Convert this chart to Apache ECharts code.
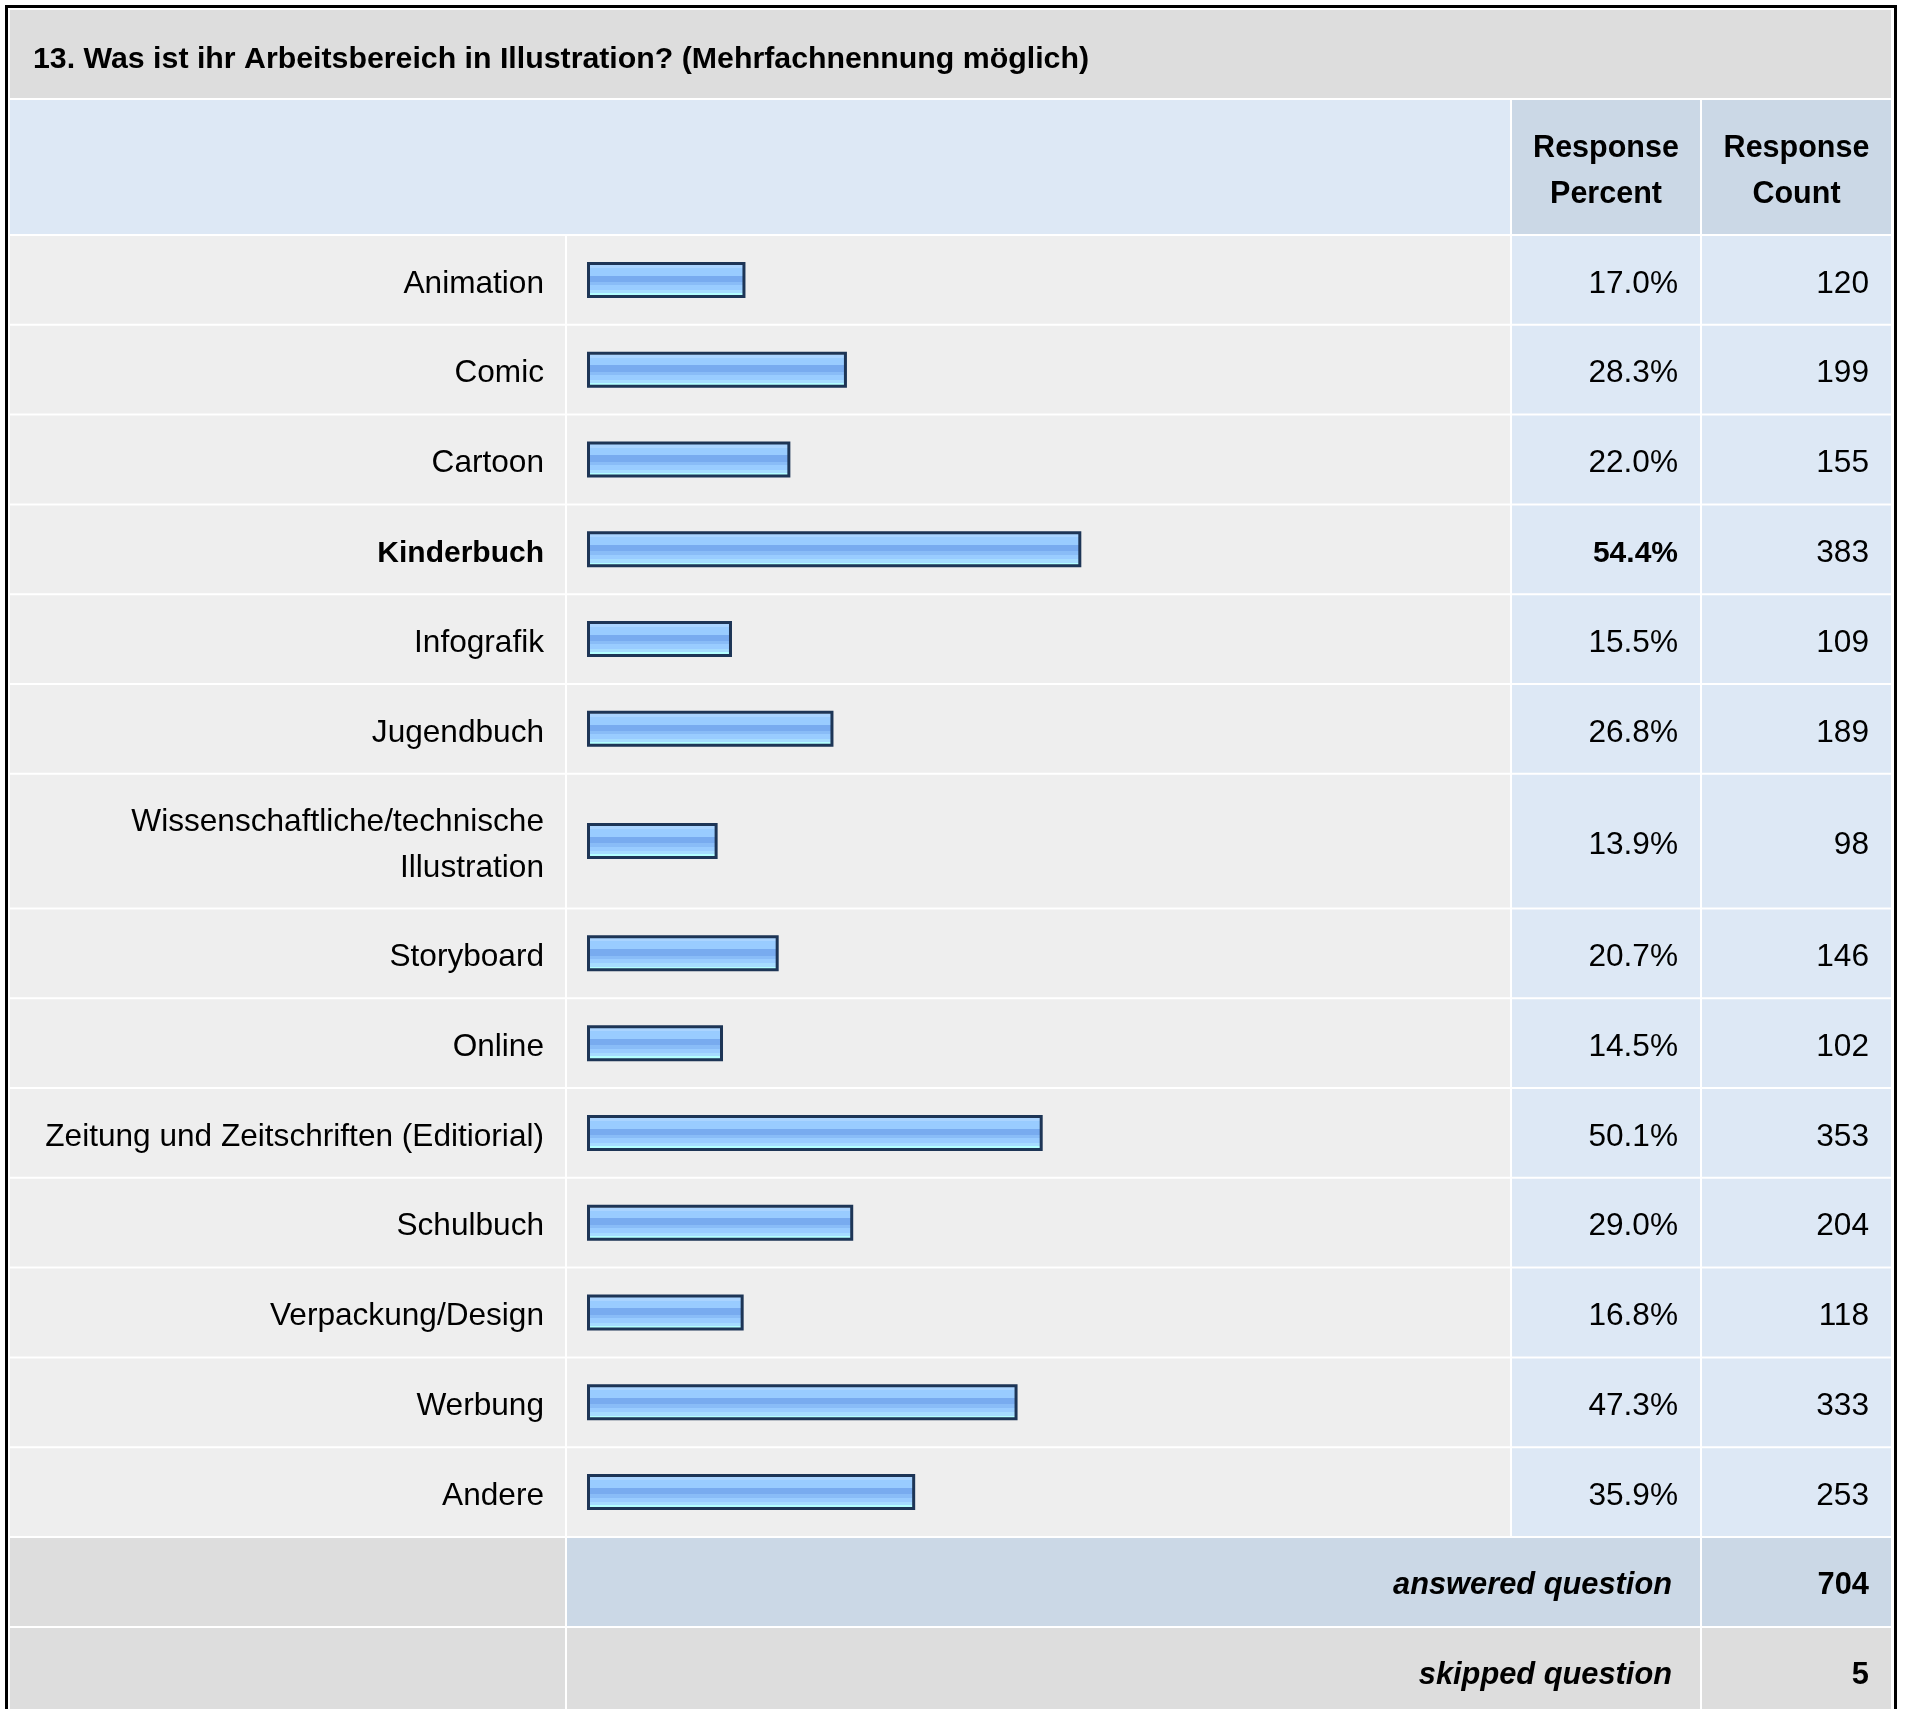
<!DOCTYPE html>
<html><head><meta charset="utf-8">
<script src="https://cdn.jsdelivr.net/npm/echarts@6/dist/echarts.min.js"></script>
<style>html,body{margin:0;padding:0;background:#fff}#c{width:1907px;height:1709px}</style>
</head><body><div id="c"></div>
<script>
// ---- data ----
const title = '13. Was ist ihr Arbeitsbereich in Illustration? (Mehrfachnennung möglich)';
const columnHeaders = ['Response\nPercent', 'Response\nCount'];
const categories = [
  'Animation', 'Comic', 'Cartoon', 'Kinderbuch', 'Infografik', 'Jugendbuch',
  'Wissenschaftliche/technische\nIllustration', 'Storyboard', 'Online',
  'Zeitung und Zeitschriften (Editiorial)', 'Schulbuch', 'Verpackung/Design',
  'Werbung', 'Andere'
];
const responsePercent = [17.0, 28.3, 22.0, 54.4, 15.5, 26.8, 13.9, 20.7, 14.5, 50.1, 29.0, 16.8, 47.3, 35.9];
const responseCount = [120, 199, 155, 383, 109, 189, 98, 146, 102, 353, 204, 118, 333, 253];
const summaryLabels = ['answered question', 'skipped question'];
const summaryValues = [704, 5];

// ---- layout / style ----
const FONT = '"Liberation Sans", Arial, Helvetica, sans-serif';
const REG = '31.6px ' + FONT;
const BOLD = 'bold 30px ' + FONT;
const HBOLD = 'bold 30.5px ' + FONT;
const TBOLD = 'bold 30.3px ' + FONT;
const FBOLD = 'bold 30.8px ' + FONT;
const BI = 'italic bold 30.8px ' + FONT;
const C = {L0: 10, L1: 565, B0: 567, B1: 1510, P0: 1512, P1: 1700, N0: 1702, N1: 1891};
const GAP = 2;
const BAR_CAP = 2.8;
const BODY_TOP = 236, BODY_BOTTOM = 1538;
const maxPct = Math.max(...responsePercent);

const lineCounts = categories.map(c => c.split('\n').length);
const rowUnits = lineCounts.map(n => 1 + 0.5 * (n - 1));
let acc = 0;
const rows = categories.map((c, i) => {
  const s = acc; acc += rowUnits[i];
  return [s, acc, responsePercent[i], responseCount[i], i];
});
const totalUnits = acc;

const barFill = {
  type: 'linear', x: 0, y: 0, x2: 0, y2: 1,
  colorStops: [
    {offset: 0, color: '#cfe8ff'}, {offset: 0.08, color: '#cfe8ff'},
    {offset: 0.08, color: '#aad4ff'}, {offset: 0.17, color: '#aad4ff'},
    {offset: 0.17, color: '#99ccff'}, {offset: 0.38, color: '#99ccff'},
    {offset: 0.38, color: '#78abef'}, {offset: 0.56, color: '#78abef'},
    {offset: 0.56, color: '#89bcf7'}, {offset: 0.65, color: '#89bcf7'},
    {offset: 0.65, color: '#99ccff'}, {offset: 0.78, color: '#99ccff'},
    {offset: 0.78, color: '#a6dcff'}, {offset: 0.87, color: '#a6dcff'},
    {offset: 0.87, color: '#b3ffff'}, {offset: 1, color: '#b3ffff'}
  ]
};

function cellRect(x0, x1, y0, y1, fill) {
  return {type: 'rect', shape: {x: x0, y: y0, width: x1 - x0, height: y1 - y0}, style: {fill: fill}, silent: true};
}
function txt(text, x, y, font, align) {
  return {type: 'text', style: {text: text, x: x, y: y, font: font, fill: '#000', align: align || 'right', verticalAlign: 'middle', lineHeight: 46}, silent: true};
}

function renderRow(params, api) {
  const s = api.value(0), e = api.value(1), pct = api.value(2), cnt = api.value(3), i = api.value(4);
  const p0 = api.coord([0, s]);
  const y0 = p0[1];
  const y1 = api.coord([0, e])[1] - GAP;
  const cy = (y0 + y1) / 2;
  const xStart = p0[0] - BAR_CAP;
  const xEnd = api.coord([pct, s])[0];
  const bold = pct === maxPct;
  const bh = 33;
  return {
    type: 'group',
    children: [
      cellRect(C.L0, C.L1, y0, y1, '#eeeeee'),
      cellRect(C.B0, C.B1, y0, y1, '#eeeeee'),
      cellRect(C.P0, C.P1, y0, y1, '#dde8f5'),
      cellRect(C.N0, C.N1, y0, y1, '#dde8f5'),
      {type: 'rect', shape: {x: xStart, y: cy - bh / 2, width: xEnd - xStart, height: bh},
       style: {fill: barFill, stroke: '#1d3556', lineWidth: 3}},
      txt(categories[i], 544, cy + 4, bold ? BOLD : REG),
      txt(pct.toFixed(1) + '%', 1678, cy + 4, bold ? BOLD : REG),
      txt(String(cnt), 1869, cy + 4, REG)
    ]
  };
}

const chart = echarts.init(document.getElementById('c'), null, {renderer: 'canvas'});
const f0 = BODY_BOTTOM, f1 = f0 + 88, f2 = f1 + GAP, f3 = f2 + 88;
chart.setOption({
  animation: false,
  backgroundColor: '#ffffff',
  grid: {left: 591.3, top: BODY_TOP, width: 898, height: BODY_BOTTOM - BODY_TOP, outerBoundsMode: 'none', containLabel: false},
  xAxis: {type: 'value', min: 0, max: 100, show: false},
  yAxis: {type: 'value', min: 0, max: totalUnits, inverse: true, show: false},
  graphic: [
    {type: 'rect', shape: {x: 6.5, y: 6.5, width: 1889, height: 1800}, style: {fill: 'none', stroke: '#000', lineWidth: 3}},
    cellRect(10, 1891, 10, 98, '#dddddd'),
    txt(title, 33, 60, TBOLD, 'left'),
    cellRect(10, 1510, 100, 234, '#dde8f5'),
    cellRect(C.P0, C.P1, 100, 234, '#cbd8e6'),
    cellRect(C.N0, C.N1, 100, 234, '#cbd8e6'),
    txt(columnHeaders[0], (C.P0 + C.P1) / 2, 172, HBOLD, 'center'),
    txt(columnHeaders[1], (C.N0 + C.N1) / 2, 172, HBOLD, 'center'),
    cellRect(C.L0, C.L1, f0, f1, '#dddddd'),
    cellRect(C.B0, C.P1, f0, f1, '#cbd8e6'),
    cellRect(C.N0, C.N1, f0, f1, '#cbd8e6'),
    txt(summaryLabels[0], 1672, (f0 + f1) / 2 + 3.5, BI),
    txt(String(summaryValues[0]), 1869, (f0 + f1) / 2 + 3.5, FBOLD),
    cellRect(C.L0, C.L1, f2, f3, '#dddddd'),
    cellRect(C.B0, C.P1, f2, f3, '#dddddd'),
    cellRect(C.N0, C.N1, f2, f3, '#dddddd'),
    txt(summaryLabels[1], 1672, (f2 + f3) / 2 + 3.5, BI),
    txt(String(summaryValues[1]), 1869, (f2 + f3) / 2 + 3.5, FBOLD)
  ],
  series: [{
    type: 'custom',
    renderItem: renderRow,
    encode: {x: 2, y: 0},
    clip: false,
    data: rows
  }]
});
</script></body></html>
